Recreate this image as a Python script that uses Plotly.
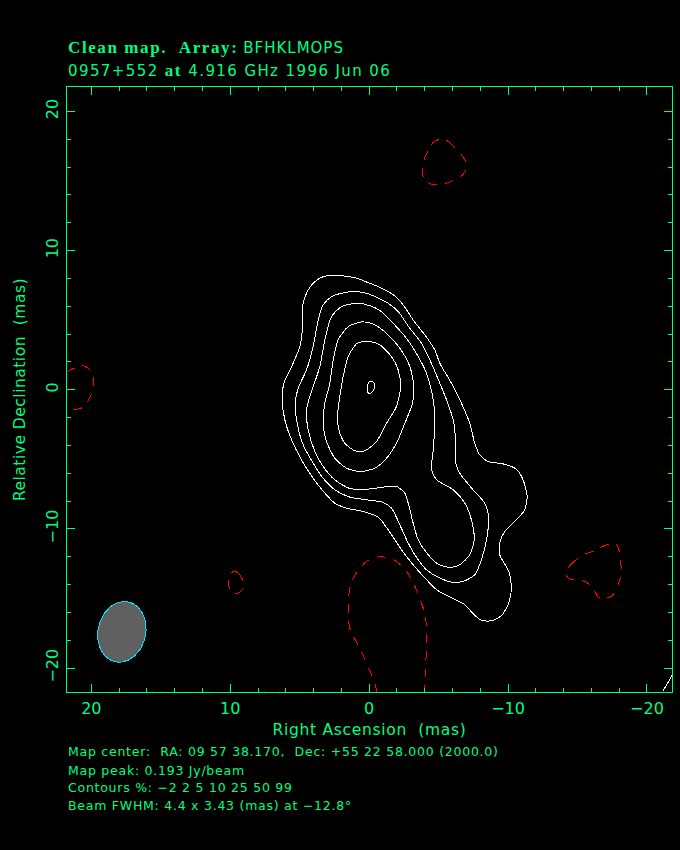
import numpy as np
import plotly.graph_objects as go

GREEN = "#00ff7f"
SANS = "DejaVu Sans"

# Positive contours (mas): relative RA, relative Dec
c1_ra = [2.59,1.63,0.86,0.19,-0.77,-1.85,-2.45,-3.17,-4.13,-4.73,-5.09,-5.93,-6.53,-7.24,-7.60,-7.96,-8.56,-9.64,-10.60,-11.08,-11.37,-11.20,-10.48,-9.76,-9.40,-9.40,-10.05,-10.24,-10.05,-9.52,-8.80,-8.08,-7.48,-6.89,-5.81,-4.85,-4.13,-3.17,-2.33,-1.37,-0.65,0.43,1.63,2.47,3.19,4.03,4.87,5.58,6.07,6.26,6.14,5.58,4.99,4.79,4.75,4.39,3.91,3.31,2.59]
c1_dec = [8.22,8.15,8.00,7.74,7.36,6.73,6.09,5.01,3.77,2.86,1.90,0.46,-0.73,-2.41,-3.84,-4.68,-5.16,-5.33,-5.71,-6.48,-7.67,-8.63,-9.47,-10.18,-11.02,-11.86,-13.06,-14.25,-15.33,-16.24,-16.60,-16.57,-16.09,-15.45,-14.90,-14.37,-13.65,-12.58,-11.50,-10.07,-9.15,-8.75,-8.51,-8.15,-7.43,-6.36,-5.04,-3.60,-2.17,-0.73,0.46,1.66,3.10,4.53,6.21,7.17,7.76,8.12,8.22]
c2_ra = [1.15,0.19,-0.53,-1.37,-2.09,-2.93,-3.77,-4.37,-5.09,-5.57,-6.05,-6.24,-6.24,-6.52,-7.48,-8.32,-8.59,-8.49,-8.08,-7.60,-6.77,-5.93,-5.09,-4.13,-3.53,-2.81,-2.21,-1.61,-1.01,0.19,1.39,2.47,3.31,4.03,4.75,5.18,5.32,5.11,4.51,4.03,3.67,3.31,2.71,1.99,1.15]
c2_dec = [7.05,6.93,6.64,6.21,5.61,4.41,3.34,2.14,0.46,-0.73,-2.17,-3.84,-5.28,-6.00,-7.19,-8.15,-9.11,-10.54,-12.22,-13.30,-13.77,-13.82,-13.53,-12.94,-12.22,-11.02,-9.71,-8.51,-8.10,-7.91,-7.72,-7.19,-6.36,-5.28,-3.96,-2.41,-0.97,0.11,1.42,3.10,5.01,6.09,6.69,6.93,7.05]
c3_ra = [0.91,-0.05,-0.89,-1.73,-2.69,-3.53,-4.13,-4.61,-4.73,-4.61,-4.49,-4.85,-6.05,-6.89,-7.36,-7.56,-7.24,-6.52,-5.81,-4.97,-4.25,-3.53,-3.17,-2.81,-2.57,-1.97,-1.01,0.19,1.39,2.47,3.31,3.91,4.39,4.51,4.27,3.55,3.19,2.71,1.99,0.91]
c3_dec = [6.21,6.04,5.61,4.77,3.69,2.38,1.18,-0.73,-2.41,-4.32,-5.76,-6.47,-7.19,-8.15,-9.35,-10.78,-11.86,-12.58,-12.77,-12.53,-11.86,-10.78,-9.59,-8.15,-7.43,-6.95,-7.00,-7.15,-7.10,-6.48,-5.52,-4.44,-2.89,-1.45,-0.49,1.66,3.58,5.25,5.97,6.21]
c4_ra = [0.55,-0.29,-1.25,-2.21,-2.93,-3.22,-3.12,-2.57,-1.97,-1.25,-0.41,0.67,1.63,2.47,3.07,3.31,3.19,2.83,2.59,2.23,1.51,0.55]
c4_dec = [4.87,4.72,4.05,2.98,1.66,0.22,-0.97,-2.41,-3.84,-4.92,-5.64,-5.88,-5.64,-4.92,-3.72,-2.41,-0.97,0.46,2.14,3.58,4.53,4.87]
c5_ra = [0.07,-0.77,-1.61,-2.09,-2.26,-1.97,-1.25,-0.53,0.31,1.03,1.75,2.18,2.28,2.11,1.82,1.51,0.86,0.07]
c5_dec = [3.48,3.22,2.38,1.42,0.22,-1.21,-2.41,-3.72,-4.39,-4.39,-3.84,-2.89,-1.93,-0.49,1.18,2.38,3.34,3.48]
c6_ra = [-0.17,-0.39,-0.39,-0.17,0.04,0.14,0.04,-0.17]
c6_dec = [0.61,0.42,0.11,-0.21,-0.25,0.11,0.51,0.61]
corner_ra = [-21.15,-21.85]
corner_dec = [-21.66,-20.45]

# Negative contours (mas)
n1_ra = [-5.33,-5.76,-6.17,-6.65,-6.96,-7.00,-6.77,-6.17,-5.69,-5.09,-4.56,-4.01,-3.82,-3.89,-4.03,-4.32,-4.66,-5.33]
n1_dec = [18.05,17.77,17.38,16.86,16.38,15.90,15.47,15.11,14.87,14.75,14.75,15.06,15.61,16.26,16.74,17.33,17.81,18.05]
n2_ra = [21.82,21.65,21.17,20.57,20.14,19.86,19.90,20.05,20.34,20.74,21.29,21.65,21.82]
n2_dec = [1.28,1.35,1.56,1.71,1.47,0.82,0.11,-0.45,-0.97,-1.33,-1.40,-1.14,-1.04]
n3_ra = [9.71,9.42,9.13,9.04,9.18,9.47,9.78,10.00,10.14,10.02,9.71]
n3_dec = [-13.06,-13.18,-13.61,-14.01,-14.42,-14.61,-14.61,-14.42,-13.85,-13.22,-13.06]
n4_ra = [-0.53,-0.46,-0.22,0.19,0.67,1.27,1.46,1.51,1.27,0.96,0.19,-0.77,-1.61,-2.16,-2.81,-3.46,-3.89,-4.06,-4.13,-4.01,-3.96]
n4_dec = [-21.74,-21.26,-20.59,-19.64,-18.56,-17.48,-16.81,-15.09,-13.82,-13.22,-12.34,-12.00,-12.15,-12.51,-13.22,-14.49,-15.69,-16.29,-17.96,-21.07,-21.79]
n5_ra = [-14.15,-14.56,-15.04,-15.52,-16.12,-16.60,-17.20,-17.56,-17.84,-18.03,-18.08,-18.15,-18.03,-17.80,-17.44,-16.84,-16.48,-16.31,-16.00,-15.52,-14.92,-14.32,-14.15]
n5_dec = [-13.06,-12.53,-12.10,-11.81,-11.62,-11.34,-11.10,-10.95,-11.14,-11.74,-12.22,-12.94,-13.70,-14.33,-14.85,-15.00,-14.90,-14.61,-14.09,-13.78,-13.68,-13.54,-13.06]

# Restoring beam
beam_center = (17.8, -17.4)
beam_major = 4.4
beam_minor = 3.43
beam_pa_deg = -12.8

SERIF_STYLE = "font-family:Liberation Serif;font-weight:bold;font-size:17px;letter-spacing:1.6px"
title_1 = f'<span style="{SERIF_STYLE}">Clean map.\u00a0\u00a0Array:</span> <span style="letter-spacing:1px">BFHKLMOPS</span>'
title_2 = f'<span style="letter-spacing:1.4px">0957+552 </span><span style="{SERIF_STYLE}">at</span><span style="letter-spacing:1.4px"> 4.916 GHz 1996 Jun 06</span>'
footer = [
    "Map center:\u00a0\u00a0RA: 09 57 38.170,\u00a0\u00a0Dec: +55 22 58.000 (2000.0)",
    "Map peak: 0.193 Jy/beam",
    "Contours %: \u22122 2 5 10 25 50 99",
    "Beam FWHM: 4.4 x 3.43 (mas) at \u221212.8\u00b0",
]

fig = go.Figure()

t = np.linspace(0, 2 * np.pi, 120)
pa = np.radians(beam_pa_deg)
a, b = beam_major / 2, beam_minor / 2
bx = beam_center[0] + a * np.cos(t) * np.sin(pa) + b * np.sin(t) * np.cos(pa)
by = beam_center[1] + a * np.cos(t) * np.cos(pa) - b * np.sin(t) * np.sin(pa)
fig.add_trace(go.Scatter(x=bx, y=by, mode="lines", fill="toself", fillcolor="#606060",
                         line=dict(color="#00e5ff", width=1), hoverinfo="skip"))

for xs, ys in [(c1_ra, c1_dec), (c2_ra, c2_dec), (c3_ra, c3_dec), (c4_ra, c4_dec),
               (c5_ra, c5_dec), (c6_ra, c6_dec), (corner_ra, corner_dec)]:
    fig.add_trace(go.Scatter(x=xs, y=ys, mode="lines",
                             line=dict(color="white", width=1, shape="spline", smoothing=0.7)))
for xs, ys in [(n1_ra, n1_dec), (n2_ra, n2_dec), (n3_ra, n3_dec), (n4_ra, n4_dec), (n5_ra, n5_dec)]:
    fig.add_trace(go.Scatter(x=xs, y=ys, mode="lines",
                             line=dict(color="#ff0000", width=1, shape="spline", smoothing=0.7,
                                       dash="9px,8px")))

L, T, R, B = 67, 86.5, 672, 692
def px(x):
    return (x - L) / (R - L)
def py(y):
    return (B - y) / (B - T)

ann = [
    dict(text=title_1, x=px(66), y=py(47), font=dict(size=15)),
    dict(text=title_2, x=px(66), y=py(69.5), font=dict(size=15)),
]
for s, yy in zip(footer, [752, 770.5, 788, 806]):
    ann.append(dict(text=f'<span style="letter-spacing:0.75px">{s}</span>', x=px(66), y=py(yy), font=dict(size=12.5)))
for an in ann:
    an.update(xref="paper", yref="paper", xanchor="left", yanchor="middle", showarrow=False)
    an["font"].update(color=GREEN, family=SANS)

axis_common = dict(
    showline=True, linecolor=GREEN, linewidth=1, mirror="allticks",
    ticks="inside", ticklen=8, tickwidth=1, tickcolor=GREEN,
    tick0=0, dtick=10, showgrid=False, zeroline=False,
    minor=dict(ticks="inside", ticklen=4, tickwidth=1, tickcolor=GREEN, dtick=2, tick0=0, showgrid=False),
    tickfont=dict(color=GREEN, family=SANS, size=16),
    ticklabelstandoff=2,
)
fig.update_layout(
    width=680, height=850, autosize=False, showlegend=False,
    paper_bgcolor="black", plot_bgcolor="black",
    margin=dict(l=L, r=680 - R, t=T, b=850 - B),
    annotations=ann,
    xaxis=dict(range=[21.75, -21.8],
               title=dict(text='<span style="letter-spacing:0.7px">Right Ascension\u00a0\u00a0(mas)</span>', standoff=6,
                          font=dict(color=GREEN, family=SANS, size=15.5)), **axis_common),
    yaxis=dict(range=[-21.72, 21.75], tickangle=-90,
               title=dict(text='<span style="letter-spacing:0.5px">Relative Declination\u00a0\u00a0(mas)</span>', standoff=13,
                          font=dict(color=GREEN, family=SANS, size=15.5)), **axis_common),
)

post = """
document.body.style.margin='0';
document.body.style.background='black';
document.body.style.overflow='hidden';
var st=document.createElement('style');
st.textContent='.scatterlayer path.js-line{shape-rendering:crispEdges}';
document.head.appendChild(st);
"""
fig.write_html("out.html", config={"displayModeBar": False}, post_script=post)
